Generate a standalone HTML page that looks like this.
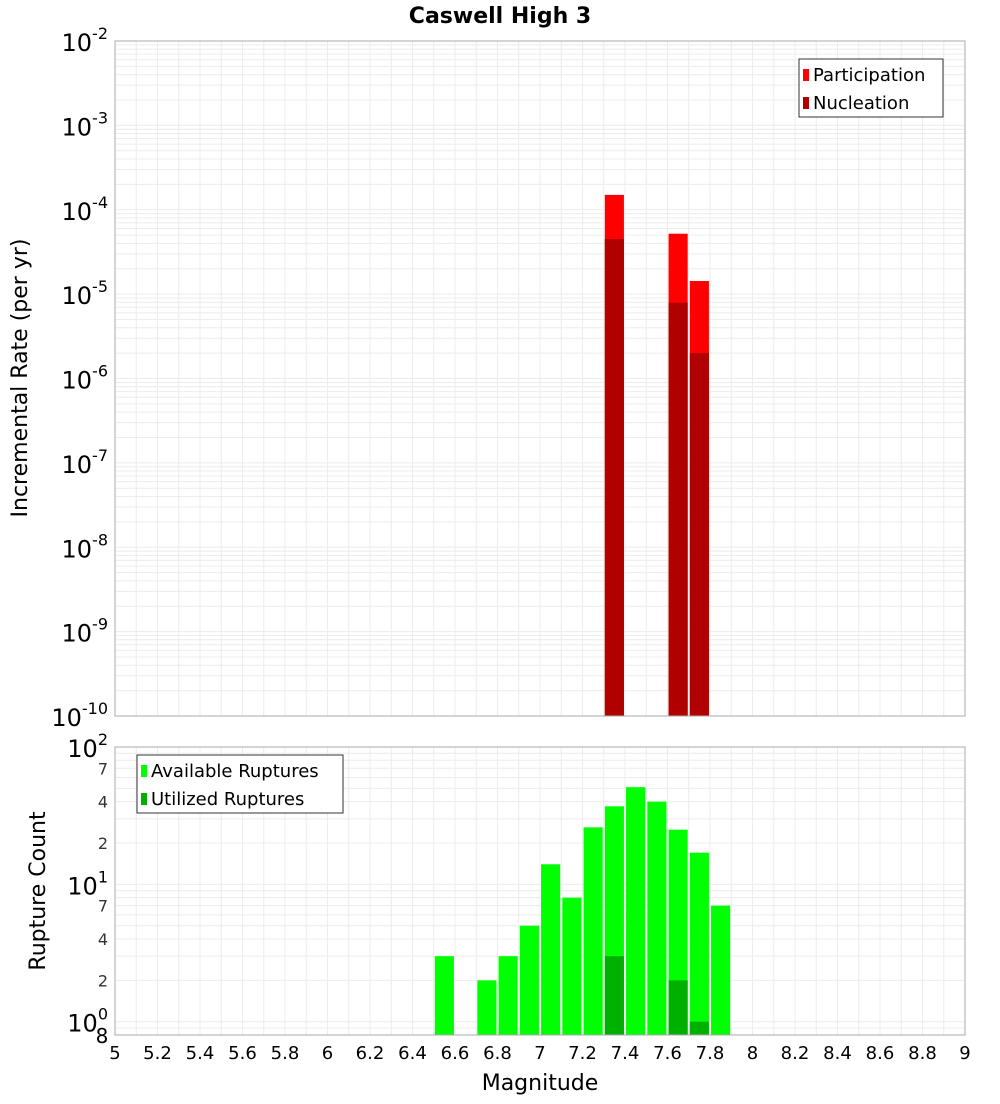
<!DOCTYPE html>
<html><head><meta charset="utf-8"><style>
body{margin:0;background:#fff;font-family:"DejaVu Sans","Liberation Sans",sans-serif}
svg text{font-family:"DejaVu Sans","Liberation Sans",sans-serif}
</style></head><body>
<svg id="c" width="1000" height="1100" xmlns="http://www.w3.org/2000/svg"></svg>
<script>
const topMags=[7.35,7.65,7.75];
const participation=[1.5e-4,5.2e-5,1.43e-5];
const nucleation=[4.5e-5,7.9e-6,2.0e-6];
const botMags=[6.55,6.75,6.85,6.95,7.05,7.15,7.25,7.35,7.45,7.55,7.65,7.75,7.85];
const available=[3,2,3,5,14,8,26,37,51,40,25,17,7];
const utilMags=[7.35,7.65,7.75];
const utilized=[3,2,1];
const xTicks=[5,5.2,5.4,5.6,5.8,6,6.2,6.4,6.6,6.8,7,7.2,7.4,7.6,7.8,8,8.2,8.4,8.6,8.8,9];
const topExps=[-2,-3,-4,-5,-6,-7,-8,-9,-10];
const botMinor=[2,4,7,20,40,70];

const S=document.getElementById('c'),NS='http://www.w3.org/2000/svg';
function el(t,a,p,txt){const e=document.createElementNS(NS,t);for(const k in a)e.setAttribute(k,a[k]);if(txt!==undefined)e.textContent=txt;(p||S).appendChild(e);return e;}
const L=115,R=965;
const xs=m=>L+(m-5)/4*(R-L);
const T1=41,B1=716;
const y1=v=>T1+(-2-Math.log10(v))/8*(B1-T1);
const T2=747,B2=1035,lmin=Math.log10(0.8);
const y2=v=>T2+(2-Math.log10(v))/(2-lmin)*(B2-T2);

// title
let t=el('text',{x:500,y:23,'text-anchor':'middle','font-size':22,'font-weight':'bold'},S,'Caswell High 3');


// grids
function grid(T,B,yf,decs){
  const g=el('g',{});
  for(let m=5;m<=9.001;m+=0.1){const x=xs(m);el('line',{x1:x,x2:x,y1:T,y2:B,stroke:'#ececec','stroke-width':1},g);}
  decs.forEach(d=>{for(let k=1;k<10;k++){const v=k*Math.pow(10,d);const y=yf(v);if(y>=T-0.5&&y<=B+0.5)el('line',{x1:L,x2:R,y1:y,y2:y,stroke:'#ececec','stroke-width':1},g);}});
}
grid(T1,B1,y1,[-10,-9,-8,-7,-6,-5,-4,-3,-2]);
grid(T2,B2,y2,[-1,0,1,2]);

// top bars
const bw=0.09;
topMags.forEach((m,i)=>{
  let r=el('rect',{x:xs(m-bw/2),y:y1(participation[i]),width:xs(m+bw/2)-xs(m-bw/2),height:B1-y1(participation[i]),fill:'#ff0000'});
  
  r=el('rect',{x:xs(m-bw/2),y:y1(nucleation[i]),width:xs(m+bw/2)-xs(m-bw/2),height:B1-y1(nucleation[i]),fill:'#b00000'});
  
});
// bottom bars
botMags.forEach((m,i)=>{
  const r=el('rect',{x:xs(m-bw/2),y:y2(available[i]),width:xs(m+bw/2)-xs(m-bw/2),height:B2-y2(available[i]),fill:'#00ff00'});
  
});
utilMags.forEach((m,i)=>{
  const r=el('rect',{x:xs(m-bw/2),y:y2(utilized[i]),width:xs(m+bw/2)-xs(m-bw/2),height:B2-y2(utilized[i]),fill:'#00b000'});
  
});
// frames
el('rect',{x:L,y:T1,width:R-L,height:B1-T1,fill:'none',stroke:'#aaa'});
el('rect',{x:L,y:T2,width:R-L,height:B2-T2,fill:'none',stroke:'#aaa'});

// top y ticks
topExps.forEach(e=>{
  const y=y1(Math.pow(10,e));
  const g=el('text',{x:108,y:y+10,'text-anchor':'end','font-size':24});
  
  el('tspan',{},g,'10');el('tspan',{dy:-12,'font-size':16},g,String(e));
});
// bottom y ticks
[[100,'2'],[10,'1'],[1,'0']].forEach(([v,e])=>{
  const y=y2(v);
  const g=el('text',{x:108,y:y+10,'text-anchor':'end','font-size':24});
  
  el('tspan',{},g,'10');el('tspan',{dy:-12,'font-size':16},g,e);
});
botMinor.forEach(v=>{
  const tt=el('text',{x:108,y:y2(v)+6,'text-anchor':'end','font-size':16,fill:'#333'},S,String(v).charAt(0));
  
});
t=el('text',{x:102,y:1043,'text-anchor':'middle','font-size':20},S,'8');


// x ticks
xTicks.forEach(m=>{
  const tt=el('text',{x:xs(m),y:1059,'text-anchor':'middle','font-size':18},S,String(m));
  
});
t=el('text',{x:540,y:1090,'text-anchor':'middle','font-size':22},S,'Magnitude');

t=el('text',{x:0,y:0,'text-anchor':'middle','font-size':22,transform:'translate(27,378) rotate(-90)'},S,'Incremental Rate (per yr)');

t=el('text',{x:0,y:0,'text-anchor':'middle','font-size':22,transform:'translate(45,891) rotate(-90)'},S,'Rupture Count');


// legends
function legend(x,y,w,items,name){
  const g=el('g',{});
  el('rect',{x:x,y:y,width:w,height:58,fill:'#fff',stroke:'#333'},g);
  items.forEach(([c,txt],i)=>{
    el('rect',{x:x+4,y:y+10+i*28,width:6,height:12,fill:c},g);
    el('text',{x:x+14,y:y+22+i*28,'font-size':18},g,txt);
  });
}
legend(799,59,144,[['#ff0000','Participation'],['#b00000','Nucleation']],'rate-legend');
legend(137,755,206,[['#00ff00','Available Ruptures'],['#00b000','Utilized Ruptures']],'count-legend');
</script>
</body></html>
